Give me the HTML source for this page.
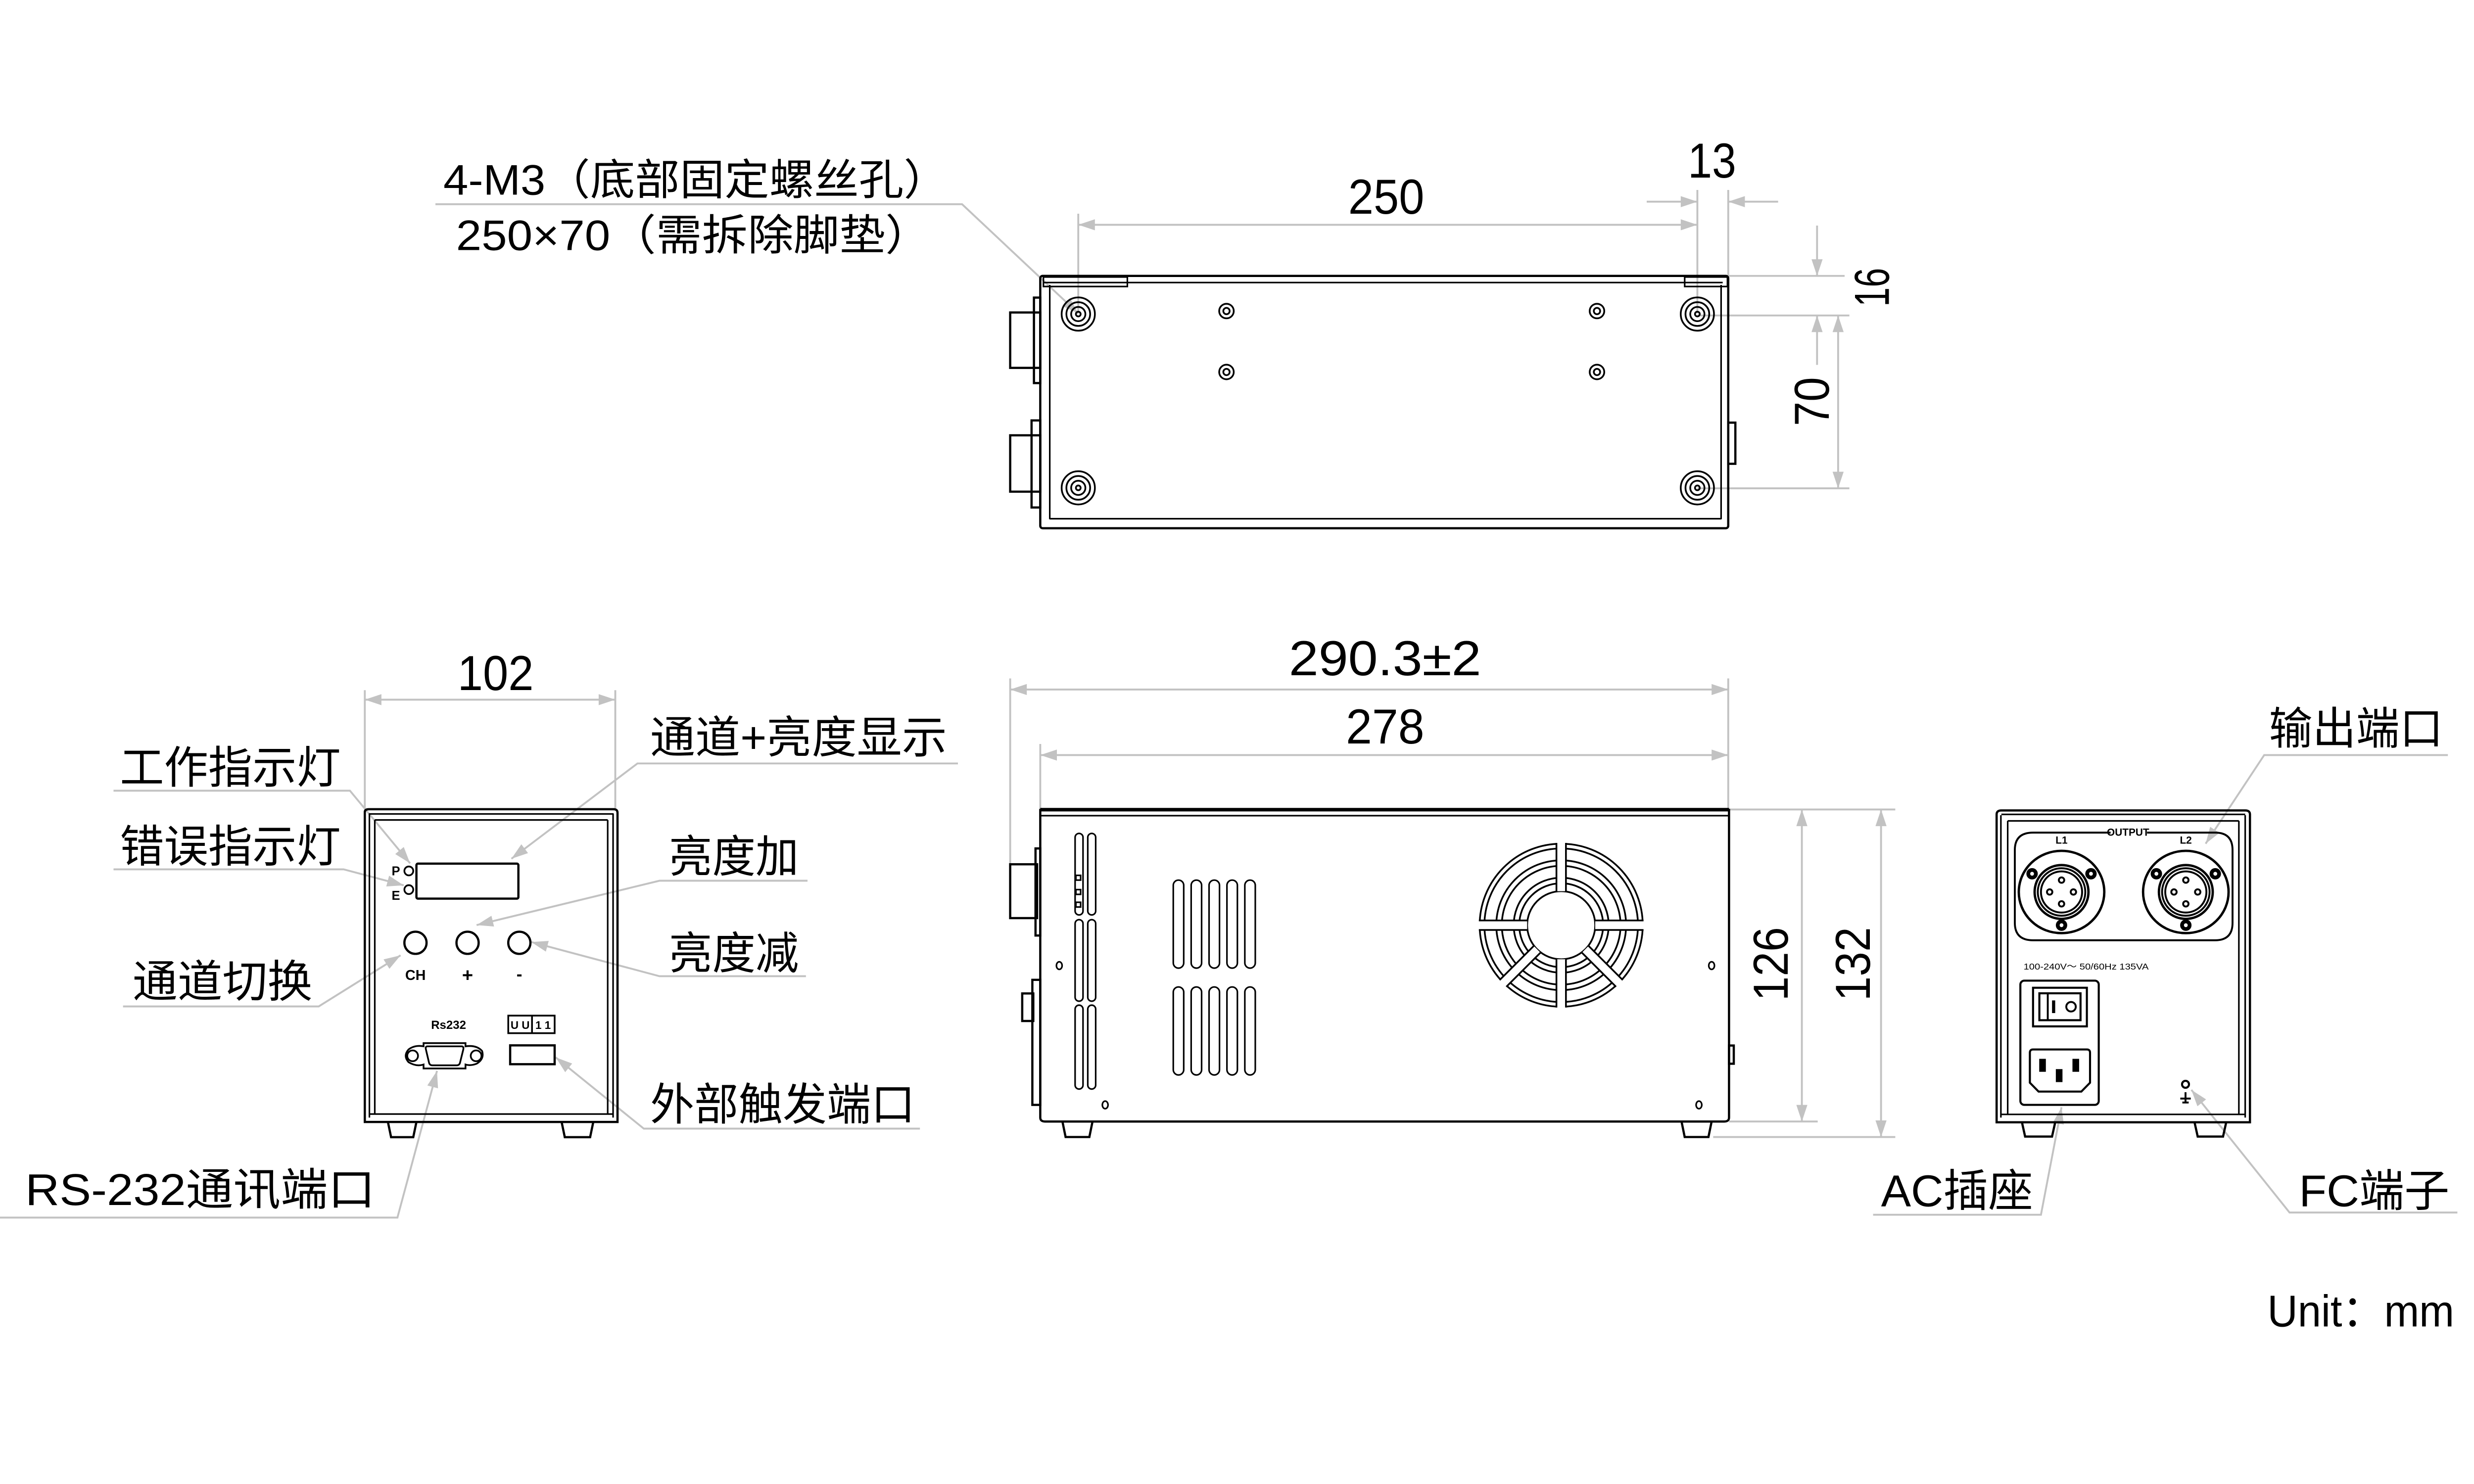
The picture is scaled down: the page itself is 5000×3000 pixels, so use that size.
<!DOCTYPE html>
<html><head><meta charset="utf-8"><style>
html,body{margin:0;padding:0;background:#fff;}
svg{display:block;}
text{font-family:"Liberation Sans","Noto Sans CJK SC",sans-serif;fill:#000;}
</style></head><body>
<svg width="5000" height="3000" viewBox="0 0 1562.5 937.5" xmlns="http://www.w3.org/2000/svg">
<defs>
<marker id="a" viewBox="0 0 12 8" refX="12" refY="4" markerWidth="12" markerHeight="7" markerUnits="userSpaceOnUse" orient="auto-start-reverse"><path d="M0,0 L12,4 L0,8 z" fill="#c2c2c2"/></marker>
</defs>
<rect width="1562.5" height="937.5" fill="#fff"/>

<!-- ============ TOP VIEW ============ -->
<g fill="none" stroke="#c2c2c2" stroke-width="1.2">
  <line x1="681" y1="135" x2="681" y2="198"/>
  <line x1="1072" y1="120" x2="1072" y2="198"/>
  <line x1="1091.5" y1="120" x2="1091.5" y2="174"/>
  <line x1="681" y1="142" x2="1072" y2="142" marker-start="url(#a)" marker-end="url(#a)"/>
  <line x1="1040" y1="127.4" x2="1072" y2="127.4" marker-end="url(#a)"/>
  <line x1="1123" y1="127.4" x2="1091.5" y2="127.4" marker-end="url(#a)"/>
  <line x1="1091.5" y1="174.3" x2="1165" y2="174.3"/>
  <line x1="1072" y1="199.3" x2="1168" y2="199.3"/>
  <line x1="1072" y1="308.5" x2="1168" y2="308.5"/>
  <line x1="1147.6" y1="142.5" x2="1147.6" y2="174.3" marker-end="url(#a)"/>
  <line x1="1147.6" y1="230.5" x2="1147.6" y2="199.3" marker-end="url(#a)"/>
  <line x1="1160.9" y1="199.3" x2="1160.9" y2="308.5" marker-start="url(#a)" marker-end="url(#a)"/>
  <polyline points="275,129 607.6,129 681,198" marker-end="url(#a)"/>
</g>
<text x="851.5" y="135" font-size="31" textLength="48" lengthAdjust="spacingAndGlyphs">250</text>
<text x="1066" y="112.2" font-size="31" textLength="30.5" lengthAdjust="spacingAndGlyphs">13</text>
<text transform="translate(1193,181.5) rotate(-90)" text-anchor="middle" font-size="31" textLength="24.5" lengthAdjust="spacingAndGlyphs">16</text>
<text transform="translate(1155,253.7) rotate(-90)" text-anchor="middle" font-size="31" textLength="31" lengthAdjust="spacingAndGlyphs">70</text>
<text x="280" y="123" font-size="27" textLength="319" lengthAdjust="spacingAndGlyphs">4-M3（底部固定螺丝孔）</text>
<text x="288" y="158" font-size="27" textLength="300" lengthAdjust="spacingAndGlyphs">250×70（需拆除脚垫）</text>

<g fill="none" stroke="#000" stroke-width="1.4">
  <rect x="638" y="197.4" width="19" height="35"/>
  <rect x="653" y="188" width="4" height="54"/>
  <rect x="638" y="275" width="19" height="35.6"/>
  <rect x="651.5" y="265.6" width="5.5" height="55"/>
  <rect x="1091.5" y="267" width="4.5" height="26"/>
  <rect x="657" y="174.3" width="434.5" height="159.4" rx="1.5"/>
  <line x1="659" y1="178.5" x2="1088" y2="178.5" stroke-width="1"/>
  <line x1="663" y1="327.7" x2="1087" y2="327.7" stroke-width="1"/>
  <line x1="663" y1="180" x2="663" y2="328" stroke-width="1"/>
  <line x1="1087" y1="180" x2="1087" y2="328" stroke-width="1"/>
  <rect x="659" y="175" width="53" height="6" stroke-width="1"/>
  <rect x="1064" y="175" width="27" height="6" stroke-width="1"/>
</g>
<g fill="none" stroke="#000" stroke-width="1.1">
  <g transform="translate(681,198.4)"><circle r="10.5"/><circle r="7.5"/><circle r="4.5"/><circle r="1.5"/></g>
  <g transform="translate(1072,198.4)"><circle r="10.5"/><circle r="7.5"/><circle r="4.5"/><circle r="1.5"/></g>
  <g transform="translate(681,308.2)"><circle r="10.5"/><circle r="7.5"/><circle r="4.5"/><circle r="1.5"/></g>
  <g transform="translate(1072,308.2)"><circle r="10.5"/><circle r="7.5"/><circle r="4.5"/><circle r="1.5"/></g>
  <g transform="translate(774.6,196.5)"><circle r="4.6"/><circle r="2"/></g>
  <g transform="translate(1008.6,196.5)"><circle r="4.6"/><circle r="2"/></g>
  <g transform="translate(774.6,235)"><circle r="4.6"/><circle r="2"/></g>
  <g transform="translate(1008.6,235)"><circle r="4.6"/><circle r="2"/></g>
</g>

<!-- ============ SIDE VIEW ============ -->
<g fill="none" stroke="#c2c2c2" stroke-width="1.2">
  <line x1="638" y1="428.6" x2="638" y2="546"/>
  <line x1="657" y1="470" x2="657" y2="511"/>
  <line x1="1091.5" y1="428.6" x2="1091.5" y2="511"/>
  <line x1="638" y1="435.6" x2="1091.5" y2="435.6" marker-start="url(#a)" marker-end="url(#a)"/>
  <line x1="657" y1="477" x2="1091.5" y2="477" marker-start="url(#a)" marker-end="url(#a)"/>
  <line x1="1092" y1="511.4" x2="1197" y2="511.4"/>
  <line x1="1092" y1="708.5" x2="1148" y2="708.5"/>
  <line x1="1082" y1="718.3" x2="1197" y2="718.3"/>
  <line x1="1138" y1="511.4" x2="1138" y2="708.5" marker-start="url(#a)" marker-end="url(#a)"/>
  <line x1="1188" y1="511.4" x2="1188" y2="718.3" marker-start="url(#a)" marker-end="url(#a)"/>
</g>
<text x="814" y="426.5" font-size="31" textLength="121.5" lengthAdjust="spacingAndGlyphs">290.3±2</text>
<text x="850" y="469.7" font-size="31" textLength="49.6" lengthAdjust="spacingAndGlyphs">278</text>
<text transform="translate(1129,609) rotate(-90)" text-anchor="middle" font-size="31" textLength="46.7" lengthAdjust="spacingAndGlyphs">126</text>
<text transform="translate(1181,609) rotate(-90)" text-anchor="middle" font-size="31" textLength="46.7" lengthAdjust="spacingAndGlyphs">132</text>

<g fill="none" stroke="#000" stroke-width="1.4">
  <line x1="657" y1="511.5" x2="1092" y2="511.5" stroke-width="2.2"/>
  <path d="M657,511 L657,706 Q657,708.5 660,708.5 L1089,708.5 Q1092,708.5 1092,706 L1092,511"/>
  <line x1="657" y1="515.3" x2="1092" y2="515.3" stroke-width="1"/>
  <rect x="638" y="546" width="17" height="34"/>
  <rect x="654" y="536" width="3" height="55"/>
  <rect x="652" y="619" width="5" height="79"/>
  <rect x="645.6" y="627.6" width="7" height="17.4"/>
  <rect x="1092" y="660.5" width="3" height="11.5"/>
  <path d="M671,708.5 L673,718.3 L688,718.3 L690,708.5"/>
  <path d="M1062,708.5 L1064,718.3 L1079,718.3 L1081,708.5"/>
</g>
<g fill="none" stroke="#000" stroke-width="1">
  <rect x="679" y="526.5" width="5" height="51.5" rx="2.5"/><rect x="687" y="526.5" width="5" height="51.5" rx="2.5"/>
  <rect x="679" y="581" width="5" height="51.5" rx="2.5"/><rect x="687" y="581" width="5" height="51.5" rx="2.5"/>
  <rect x="679" y="635" width="5" height="53" rx="2.5"/><rect x="687" y="635" width="5" height="53" rx="2.5"/>
  <rect x="679.5" y="553" width="3" height="3"/><rect x="679.5" y="562" width="3" height="3"/><rect x="679.5" y="570" width="3" height="3"/>
  <rect x="741" y="556" width="6.6" height="55.6" rx="3.3"/>
  <rect x="752.3" y="556" width="6.6" height="55.6" rx="3.3"/>
  <rect x="763.6" y="556" width="6.6" height="55.6" rx="3.3"/>
  <rect x="774.9" y="556" width="6.6" height="55.6" rx="3.3"/>
  <rect x="786.2" y="556" width="6.6" height="55.6" rx="3.3"/>
  <rect x="741" y="623.5" width="6.6" height="55.6" rx="3.3"/>
  <rect x="752.3" y="623.5" width="6.6" height="55.6" rx="3.3"/>
  <rect x="763.6" y="623.5" width="6.6" height="55.6" rx="3.3"/>
  <rect x="774.9" y="623.5" width="6.6" height="55.6" rx="3.3"/>
  <rect x="786.2" y="623.5" width="6.6" height="55.6" rx="3.3"/>
  <ellipse cx="669" cy="610" rx="1.8" ry="2.4"/>
  <ellipse cx="1081" cy="610" rx="1.8" ry="2.4"/>
  <ellipse cx="698" cy="698" rx="1.8" ry="2.4"/>
  <ellipse cx="1073" cy="698" rx="1.8" ry="2.4"/>
</g>
<!-- fan -->
<g transform="translate(986,584.5)" fill="none" stroke="#000" stroke-width="1.1">
  <circle r="51.5"/><circle r="48.5"/>
  <circle r="41"/><circle r="37.5"/>
  <circle r="30"/><circle r="26.5"/>
  <circle r="21.5"/>
  <g>
    <g transform="rotate(-90)"><rect x="21.5" y="-3" width="31" height="6" fill="#fff" stroke="none"/><line x1="21.5" y1="-3" x2="52" y2="-3"/><line x1="21.5" y1="3" x2="52" y2="3"/></g>
    <g transform="rotate(90)"><rect x="21.5" y="-3" width="31" height="6" fill="#fff" stroke="none"/><line x1="21.5" y1="-3" x2="52" y2="-3"/><line x1="21.5" y1="3" x2="52" y2="3"/></g>
    <g transform="rotate(0)"><rect x="21.5" y="-3" width="31" height="6" fill="#fff" stroke="none"/><line x1="21.5" y1="-3" x2="52" y2="-3"/><line x1="21.5" y1="3" x2="52" y2="3"/></g>
    <g transform="rotate(180)"><rect x="21.5" y="-3" width="31" height="6" fill="#fff" stroke="none"/><line x1="21.5" y1="-3" x2="52" y2="-3"/><line x1="21.5" y1="3" x2="52" y2="3"/></g>
    <g transform="rotate(45)"><rect x="21.5" y="-3" width="31" height="6" fill="#fff" stroke="none"/><line x1="21.5" y1="-3" x2="52" y2="-3"/><line x1="21.5" y1="3" x2="52" y2="3"/></g>
    <g transform="rotate(135)"><rect x="21.5" y="-3" width="31" height="6" fill="#fff" stroke="none"/><line x1="21.5" y1="-3" x2="52" y2="-3"/><line x1="21.5" y1="3" x2="52" y2="3"/></g>
  </g>
</g>

<!-- ============ FRONT VIEW ============ -->
<g fill="none" stroke="#c2c2c2" stroke-width="1.2">
  <line x1="230.4" y1="436" x2="230.4" y2="511"/>
  <line x1="388.6" y1="436" x2="388.6" y2="511"/>
  <line x1="230.4" y1="442" x2="388.6" y2="442" marker-start="url(#a)" marker-end="url(#a)"/>
  <polyline points="71.7,499.5 221,499.5 259,545.4" marker-end="url(#a)"/>
  <polyline points="71.7,549.2 217,549.2 255,559.3" marker-end="url(#a)"/>
  <polyline points="605,482.3 402.6,482.3 323,542.5" marker-end="url(#a)"/>
  <polyline points="510,556.4 416.5,556.4 301,584.4" marker-end="url(#a)"/>
  <polyline points="509,616.7 416.5,616.7 335.5,595.1" marker-end="url(#a)"/>
  <polyline points="77.7,635.8 201.3,635.8 253,603.5" marker-end="url(#a)"/>
  <polyline points="581,713 406.6,713 351,668" marker-end="url(#a)"/>
  <polyline points="0,769.2 251,769.2 276,676.5" marker-end="url(#a)"/>
</g>
<text x="313" y="436" text-anchor="middle" font-size="31" textLength="48" lengthAdjust="spacingAndGlyphs">102</text>
<text x="75.7" y="494.7" font-size="28" textLength="139.5" lengthAdjust="spacingAndGlyphs">工作指示灯</text>
<text x="75.7" y="544.5" font-size="28" textLength="139.5" lengthAdjust="spacingAndGlyphs">错误指示灯</text>
<text x="410.6" y="475.6" font-size="28" textLength="187.5" lengthAdjust="spacingAndGlyphs">通道+亮度显示</text>
<text x="422.5" y="551" font-size="28" textLength="82" lengthAdjust="spacingAndGlyphs">亮度加</text>
<text x="422.5" y="612" font-size="28" textLength="82" lengthAdjust="spacingAndGlyphs">亮度减</text>
<text x="83.7" y="629.8" font-size="28" textLength="113.6" lengthAdjust="spacingAndGlyphs">通道切换</text>
<text x="410.6" y="707.5" font-size="28" textLength="167.4" lengthAdjust="spacingAndGlyphs">外部触发端口</text>
<text x="16" y="761.3" font-size="28" textLength="221" lengthAdjust="spacingAndGlyphs">RS-232通讯端口</text>

<g fill="none" stroke="#000" stroke-width="1.4">
  <path d="M230.4,513 Q230.4,511.2 233,511.2 L387.5,511.2 Q390,511.2 390,513.5 L390,708.8 L230.4,708.8 Z"/>
  <line x1="233.3" y1="514" x2="233.3" y2="706" stroke-width="1"/>
  <line x1="236.7" y1="518" x2="236.7" y2="704" stroke-width="1"/>
  <line x1="387.2" y1="514" x2="387.2" y2="706" stroke-width="1"/>
  <line x1="383.8" y1="518" x2="383.8" y2="704" stroke-width="1"/>
  <line x1="233" y1="514.2" x2="387.5" y2="514.2" stroke-width="1"/>
  <line x1="236.7" y1="518" x2="383.8" y2="518" stroke-width="1"/>
  <line x1="233.3" y1="703.8" x2="387.2" y2="703.8" stroke-width="1"/>
  <rect x="263" y="545.6" width="64.4" height="22.1" rx="1"/>
  <path d="M245,708.8 L247,718.4 L261,718.4 L263,708.8"/>
  <path d="M354.7,708.8 L356.7,718.4 L372.7,718.4 L374.7,708.8"/>
</g>
<g fill="none" stroke="#000" stroke-width="1.1">
  <circle cx="258.2" cy="550.2" r="2.8"/>
  <circle cx="258.2" cy="562" r="2.8"/>
  <circle cx="262.4" cy="595.6" r="7" stroke-width="1.4"/>
  <circle cx="295.3" cy="595.6" r="7" stroke-width="1.4"/>
  <circle cx="328" cy="595.6" r="7" stroke-width="1.4"/>
  <path d="M267.5,659 L294,659 L294,661 Q301,660 304.5,664 Q306,669 301,672 Q297,673.5 294,672.5 L294,675 L267.5,675 L267.5,672.5 Q263,674 258,671 Q254.5,667 258,663 Q262,660 267.5,661 Z"/>
  <circle cx="260.6" cy="667" r="3.4"/>
  <circle cx="300.7" cy="667" r="3.4"/>
  <path d="M270,661 L291.5,661 Q293,661 292.6,663 L290.5,671.5 Q290,673 288.5,673 L273,673 Q271.5,673 271,671.5 L269,663 Q268.5,661 270,661 Z"/>
  <rect x="321" y="641.6" width="29.3" height="11.1"/>
  <line x1="336" y1="641.6" x2="336" y2="652.7"/>
  <rect x="322.2" y="660.4" width="28.1" height="11.9" stroke-width="1.4"/>
</g>
<g font-weight="bold" font-family="Liberation Sans, sans-serif">
  <text x="250" y="553" font-size="8" text-anchor="middle">P</text>
  <text x="250" y="568.5" font-size="8" text-anchor="middle">E</text>
  <text x="262.4" y="619" font-size="9" text-anchor="middle">CH</text>
  <text x="295.3" y="620" font-size="12" text-anchor="middle">+</text>
  <text x="328" y="619" font-size="11" text-anchor="middle">-</text>
  <text x="283.3" y="650" font-size="7.5" text-anchor="middle">Rs232</text>
  <text x="328.5" y="650" font-size="7" text-anchor="middle">U U</text>
  <text x="343" y="650" font-size="7" text-anchor="middle">1 1</text>
</g>

<!-- ============ REAR VIEW ============ -->
<g fill="none" stroke="#c2c2c2" stroke-width="1.2">
  <polyline points="1546,477 1430,477 1393,533" marker-end="url(#a)"/>
  <polyline points="1183,767.4 1289,767.4 1302,699.5" marker-end="url(#a)"/>
  <polyline points="1552,766 1446,766 1384,688.5" marker-end="url(#a)"/>
</g>
<text x="1433" y="470" font-size="28" textLength="110" lengthAdjust="spacingAndGlyphs">输出端口</text>
<text x="1188" y="762" font-size="28" textLength="96" lengthAdjust="spacingAndGlyphs">AC插座</text>
<text x="1452" y="762" font-size="28" textLength="95" lengthAdjust="spacingAndGlyphs">FC端子</text>
<text x="1432" y="838" font-size="28" fill="#333" textLength="118" lengthAdjust="spacingAndGlyphs">Unit：mm</text>

<g fill="none" stroke="#000" stroke-width="1.4">
  <path d="M1261,514.5 Q1261,512 1264,512 L1418,512 Q1421,512 1421,514.5 L1421,709 L1261,709 Z"/>
  <line x1="1263.7" y1="515" x2="1263.7" y2="706" stroke-width="1"/>
  <line x1="1268" y1="518.6" x2="1268" y2="704" stroke-width="1"/>
  <line x1="1418" y1="515" x2="1418" y2="706" stroke-width="1"/>
  <line x1="1414" y1="518.6" x2="1414" y2="704" stroke-width="1"/>
  <line x1="1264" y1="514.5" x2="1418" y2="514.5" stroke-width="1"/>
  <line x1="1268" y1="518.6" x2="1414" y2="518.6" stroke-width="1"/>
  <line x1="1264" y1="704" x2="1418" y2="704" stroke-width="1"/>
  <path d="M1277,709 L1279,718 L1296,718 L1298,709"/>
  <path d="M1386,709 L1388,718 L1404,718 L1406,709"/>
  <path d="M1333,526 L1284,526 Q1272.5,526 1272.5,537 L1272.5,583 Q1272.5,594 1284,594 L1399,594 Q1410,594 1410,583 L1410,537 Q1410,526 1399,526 L1356,526" stroke-width="1.2"/>
</g>
<g font-weight="bold" font-family="Liberation Sans, sans-serif">
  <text x="1344" y="528" font-size="6.5" text-anchor="middle">OUTPUT</text>
  <text x="1302" y="533" font-size="6.5" text-anchor="middle">L1</text>
  <text x="1380.5" y="533" font-size="6.5" text-anchor="middle">L2</text>
</g>
<g fill="none" stroke="#000" stroke-width="1.2">
  <g transform="translate(1302,563.5)">
    <ellipse rx="27" ry="26" stroke-width="1.5"/>
    <circle r="17" stroke-width="1.5"/><circle r="15"/><circle r="13"/>
    <circle cx="0" cy="-7.5" r="1.7"/><circle cx="0" cy="7.5" r="1.7"/><circle cx="-7.5" cy="0" r="1.7"/><circle cx="7.5" cy="0" r="1.7"/>
    <circle cx="-18.6" cy="-11.5" r="3" fill="#000"/><circle cx="18.6" cy="-11.5" r="3" fill="#000"/><circle cx="0" cy="21" r="3" fill="#000"/>
    <circle cx="-18.6" cy="-11.5" r="1.2" fill="#fff" stroke="none"/><circle cx="18.6" cy="-11.5" r="1.2" fill="#fff" stroke="none"/><circle cx="0" cy="21" r="1.2" fill="#fff" stroke="none"/>
  </g>
  <g transform="translate(1380.5,563.5)">
    <ellipse rx="27" ry="26" stroke-width="1.5"/>
    <circle r="17" stroke-width="1.5"/><circle r="15"/><circle r="13"/>
    <circle cx="0" cy="-7.5" r="1.7"/><circle cx="0" cy="7.5" r="1.7"/><circle cx="-7.5" cy="0" r="1.7"/><circle cx="7.5" cy="0" r="1.7"/>
    <circle cx="-18.6" cy="-11.5" r="3" fill="#000"/><circle cx="18.6" cy="-11.5" r="3" fill="#000"/><circle cx="0" cy="21" r="3" fill="#000"/>
    <circle cx="-18.6" cy="-11.5" r="1.2" fill="#fff" stroke="none"/><circle cx="18.6" cy="-11.5" r="1.2" fill="#fff" stroke="none"/><circle cx="0" cy="21" r="1.2" fill="#fff" stroke="none"/>
  </g>
  <rect x="1276" y="619.5" width="49.5" height="78.5" rx="2.5" stroke-width="1.3"/>
  <rect x="1284" y="624" width="34" height="24.4" stroke-width="1.3"/>
  <rect x="1288" y="627.5" width="26" height="17" stroke-width="1.3"/>
  <line x1="1293.3" y1="627.5" x2="1293.3" y2="644.5"/>
  <rect x="1296" y="632" width="2" height="8" fill="#000" stroke="none"/>
  <circle cx="1308" cy="636" r="3"/>
  <path d="M1284,663 L1318,663 Q1320,663 1320,665 L1320,684 L1314.5,689.6 L1287.5,689.6 L1282,684 L1282,665 Q1282,663 1284,663 Z" stroke-width="1.3"/>
  <rect x="1288.5" y="669.5" width="3" height="7" fill="#000"/>
  <rect x="1309.5" y="669.5" width="3" height="7" fill="#000"/>
  <rect x="1299" y="676" width="3" height="7" fill="#000"/>
  <circle cx="1380.3" cy="685" r="2.2" stroke-width="1.3"/>
  <line x1="1380.3" y1="690" x2="1380.3" y2="697"/>
  <line x1="1377" y1="694" x2="1383.6" y2="694"/>
  <line x1="1378.3" y1="696.5" x2="1382.3" y2="696.5"/>
</g>
<text x="1278" y="612.5" font-family="Liberation Serif, serif" font-size="5.6" textLength="79" lengthAdjust="spacingAndGlyphs">100-240V～ 50/60Hz 135VA</text>
</svg>
</body></html>
